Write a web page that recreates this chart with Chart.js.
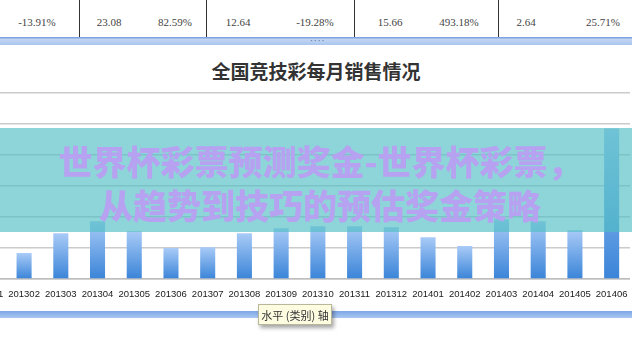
<!DOCTYPE html>
<html>
<head>
<meta charset="utf-8">
<script src="https://cdn.jsdelivr.net/npm/chart.js@4.4.1/dist/chart.umd.min.js"></script>
<style>
  html, body { margin:0; padding:0; width:632px; height:362px; overflow:hidden; background:#fff; position:relative; }
  #wrap { position:absolute; left:-31px; top:88px; width:661px; height:216px; }
  .cell { position:absolute; top:16px; font-family:"Liberation Serif","DejaVu Serif",serif; font-size:11px; color:#444; transform:translateX(-50%); white-space:nowrap; }
  .vline { position:absolute; top:0; width:1px; height:38px; background:#333; }
  #strip { position:absolute; left:0; top:37px; width:632px; height:8px; background:linear-gradient(#7fa3e0 0, #7fa3e0 1px, #c3d6f3 2px, #aac6ee 8px); }
  #dots { position:absolute; left:310px; top:36px; font-size:9px; color:#5a6f9a; letter-spacing:1px; font-family:"DejaVu Sans",sans-serif; }
  #title { position:absolute; left:0; width:632px; top:57px; text-align:center; font-family:"Noto Sans CJK SC",sans-serif; font-weight:700; font-size:19px; color:#333; }
  #banner { position:absolute; left:0; top:128px; width:632px; height:104px; background:rgba(80,190,195,0.65); }
  .wm { position:absolute; left:0; width:640px; text-align:center; font-family:"Noto Sans CJK SC",sans-serif; font-weight:900; font-size:34px; color:#b6a2f0; line-height:1; white-space:nowrap; }
  #bstrip { position:absolute; left:0; top:311px; width:632px; height:7px; background:linear-gradient(#7ea6e6, #a9c8f2); }
  #tip { position:absolute; left:258px; top:304px; width:74px; height:21px; background:#fdfbe0; border:1px solid #b9b79a; box-shadow:2px 3px 4px rgba(0,0,0,0.35); font-family:"Noto Sans CJK SC",sans-serif; font-size:11px; color:#333; line-height:21px; text-align:center; box-sizing:border-box; }
</style>
</head>
<body>
<div id="table"></div>
<div id="strip"></div>
<div id="dots">····</div>
<div id="title"></div>
<div id="wrap"><canvas id="c" width="661" height="216"></canvas></div>
<div id="banner"></div>
<div class="wm" id="wm1" style="top:144px;"></div>
<div class="wm" id="wm2" style="top:188px;"></div>
<div id="bstrip"></div>
<div id="tip">水平 (类别) 轴</div>
<script>
// ---- data ----
const categories = ["201301","201302","201303","201304","201305","201306","201307","201308","201309","201310","201311","201312","201401","201402","201403","201404","201405","201406"];
const sales = [28.0, 16.7, 29.5, 37.2, 30.8, 19.9, 20.5, 29.5, 32.7, 34.0, 34.0, 33.3, 26.9, 21.2, 38.5, 37.2, 31.4, 96.8];
const tableValues = ["-13.91%","23.08","82.59%","12.64","-19.28%","15.66","493.18%","2.64","25.71%"];
const tableCenters = [37, 109, 175, 238, 315, 390, 459, 526, 603];
const tableLines = [79, 206, 354, 498];
const chartTitle = "全国竞技彩每月销售情况";
const watermark1 = "世界杯彩票预测奖金-世界杯彩票，";
const watermark2 = "从趋势到技巧的预估奖金策略";
const yMax = 120, yStep = 20;

// ---- page text ----
const tbl = document.getElementById('table');
tableValues.forEach((v, i) => {
  const d = document.createElement('div');
  d.className = 'cell'; d.style.left = tableCenters[i] + 'px'; d.textContent = v; tbl.appendChild(d);
});
tableLines.forEach(x => {
  const d = document.createElement('div');
  d.className = 'vline'; d.style.left = x + 'px'; tbl.appendChild(d);
});
document.getElementById('title').textContent = chartTitle;
document.getElementById('wm1').textContent = watermark1;
document.getElementById('wm2').textContent = watermark2;

// ---- chart ----
function barFill(ctx) {
  const c = ctx.chart;
  if (!c.chartArea || !c.scales.y) return '#6fa8ea';
  const ys = c.scales.y;
  const top = ys.getPixelForValue(ctx.raw);
  const bot = ys.getPixelForValue(0);
  if (!isFinite(top) || !isFinite(bot) || top === bot) return '#6fa8ea';
  const g = c.ctx.createLinearGradient(0, top, 0, bot);
  g.addColorStop(0, '#a9cbf7');
  g.addColorStop(1, '#3a84d8');
  return g;
}

new Chart(document.getElementById('c'), {
  type: 'bar',
  data: {
    labels: categories,
    datasets: [{ data: sales, backgroundColor: barFill, borderWidth: 0, categoryPercentage: 1, barPercentage: 0.41 }]
  },
  options: {
    responsive: false,
    animation: false,
    events: [],
    layout: { padding: { top: 4.5, bottom: 5, left: 0, right: 0 } },
    plugins: { legend: { display: false }, tooltip: { enabled: false }, title: { display: false } },
    scales: {
      x: {
        grid: { display: true, drawOnChartArea: false, drawTicks: true, tickLength: 10, tickColor: 'rgba(0,0,0,0)' },
        border: { display: true, color: '#bdbdbd', width: 1.5 },
        ticks: { color: '#1a1a1a', font: { family: 'Liberation Sans', size: 9.5 }, padding: 0, maxRotation: 0, autoSkip: false },
        afterFit: s => { s.height = 20; s.paddingLeft = 0; s.paddingRight = 0; }
      },
      y: {
        min: 0, max: yMax,
        ticks: { display: false, stepSize: yStep },
        grid: { color: '#cbcbcb', lineWidth: 1.5, drawTicks: false },
        border: { display: false },
        afterFit: s => { s.width = 0; }
      }
    }
  }
});
</script>
</body>
</html>
